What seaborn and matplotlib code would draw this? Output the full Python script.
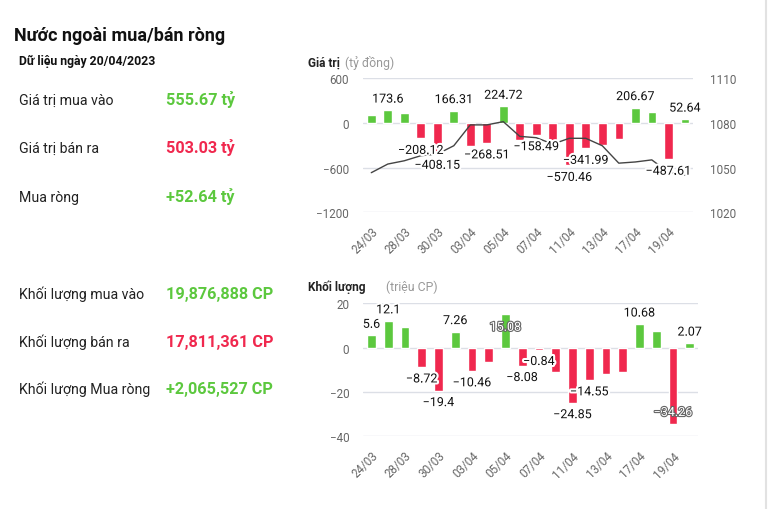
import numpy as np
import pandas as pd
import matplotlib.pyplot as plt
import matplotlib.patheffects as pe
from matplotlib.lines import Line2D
import seaborn as sns

# %%
dates = ["24/03", "27/03", "28/03", "29/03", "30/03", "31/03", "03/04", "04/04",
         "05/04", "06/04", "07/04", "10/04", "11/04", "12/04", "13/04", "14/04",
         "17/04", "18/04", "19/04", "20/04"]

# net foreign value, ty dong
value_net = [103, 173.6, 130, -208.12, -408.15, 166.31, -305, -268.51, 224.72, -224,
             -158.49, -255, -570.46, -341.99, -291, -210, 206.67, 143, -487.61, 52.64]
value_show = [0, 1, 0, 1, 1, 1, 0, 1, 1, 0, 1, 0, 1, 1, 0, 0, 1, 0, 1, 1]

# index line (right axis)
vnindex = [1046.6, 1052.4, 1054.6, 1058.0, 1059.1, 1064.7, 1078.7, 1078.7, 1080.9, 1071.0,
           1070.1, 1065.8, 1069.7, 1069.7, 1064.7, 1053.0, 1053.8, 1055.2, 1047.0, 1045.0]

# net foreign volume, trieu CP
volume_net = [5.6, 12.1, 9.5, -8.72, -19.4, 7.26, -10.46, -6.5, 15.08, -8.08,
              -0.84, -10.8, -24.85, -14.55, -11.9, -10.8, 10.68, 7.4, -34.26, 2.07]
volume_show = [1, 1, 0, 1, 1, 1, 1, 0, 1, 1, 1, 0, 1, 1, 0, 0, 1, 0, 1, 1]

value_rows = ["Giá trị mua vào", "Giá trị bán ra", "Mua ròng"]
value_texts = ["555.67 tỷ", "503.03 tỷ", "+52.64 tỷ"]
volume_rows = ["Khối lượng mua vào", "Khối lượng bán ra", "Khối lượng Mua ròng"]
volume_texts = ["19,876,888 CP", "17,811,361 CP", "+2,065,527 CP"]
row_colors = ["#5cc83e", "#f0284e", "#5cc83e"]

GREEN = "#5cc83e"
RED = "#f0284e"
TICK = "#666666"

sns.set_style("white")
plt.rcParams["font.family"] = ["Roboto", "DejaVu Sans"]

fig = plt.figure(figsize=(7.68, 5.10), dpi=100)
ax_top = fig.add_axes([0.4727, 0.5818, 0.4297, 0.2627])
ax_bot = fig.add_axes([0.4727, 0.1425, 0.4362, 0.2608])


def bar_panel(ax, values, ylim, yticks):
    df = pd.DataFrame({"date": dates, "value": values})
    df["sign"] = np.where(df["value"] >= 0, "pos", "neg")
    sns.barplot(data=df, x="date", y="value", hue="sign",
                palette={"pos": GREEN, "neg": RED}, dodge=False, legend=False,
                width=0.52, saturation=1, ax=ax)
    ax.set_xlim(-0.5, len(dates) - 0.5)
    ax.set_ylim(*ylim)
    ax.set_yticks(yticks)
    ax.set_xticks(range(0, len(dates), 2))
    ax.set_xticklabels(dates[::2], rotation=45, ha="right", rotation_mode="anchor")
    ax.set_xlabel("")
    ax.set_ylabel("")
    ax.grid(axis="y", color="#dcdfe6", lw=1)
    ax.set_axisbelow(True)
    ax.tick_params(length=0, labelsize=8.4, colors=TICK)
    ax.tick_params(axis="x", pad=9)
    ax.tick_params(axis="y", pad=10)
    sns.despine(ax=ax, left=True, bottom=True)


def add_labels(ax_draw, ax_data, values, show, room):
    ymin, ymax = ax_data.get_ylim()
    for i, v in enumerate(values):
        if not show[i]:
            continue
        txt = f"{v:g}".replace("-", "\u2212")
        if v >= 0:
            inside = v + room > ymax
            dy = -9.4 if inside else 7.9
        else:
            inside = v - room < ymin
            dy = 8 if inside else -8.6
        if inside:
            color, halo = "white", "#666666"
            lw = 1.6
        else:
            color, halo = "#111111", "white"
            lw = 3
        ax_draw.annotate(txt, xy=(i, v), xycoords=ax_data.transData,
                         xytext=(0, dy), textcoords="offset points",
                         ha="center", va="center", fontsize=9, color=color,
                         zorder=10,
                         path_effects=[pe.withStroke(linewidth=lw, foreground=halo)])


# %% value chart with index line
bar_panel(ax_top, value_net, (-1200, 600), [-1200, -600, 0, 600])
ax_idx = ax_top.twinx()
sns.lineplot(x=np.arange(len(vnindex)), y=vnindex, color="#444444", lw=1, ax=ax_idx)
ax_idx.set_ylim(1020, 1110)
ax_idx.set_yticks([1020, 1050, 1080, 1110])
ax_idx.tick_params(length=0, labelsize=8.4, colors=TICK, pad=12)
sns.despine(ax=ax_idx, left=True, bottom=True, right=True)
add_labels(ax_idx, ax_top, value_net, value_show, 228)

# %% volume chart
bar_panel(ax_bot, volume_net, (-40, 20), [-40, -20, 0, 20])
add_labels(ax_bot, ax_bot, volume_net, volume_show, 7.7)

# %% titles
def fy(py):
    return 1 - py / 510


fig.text(308 / 768, fy(63.3), "Giá trị", fontsize=8.6, fontweight="bold",
         color="#222222", va="center")
fig.text(345 / 768, fy(63.3), "(tỷ đồng)", fontsize=8.8, color="#999999", va="center")
fig.text(308 / 768, fy(287.3), "Khối lượng", fontsize=8.6, fontweight="bold",
         color="#222222", va="center")
fig.text(386 / 768, fy(287.3), "(triệu CP)", fontsize=8.8, color="#999999", va="center")

# %% left summary block
fig.text(14 / 768, fy(40.7), "Nước ngoài mua/bán ròng", fontsize=13,
         fontweight="bold", color="#111111", va="baseline")
fig.text(19 / 768, fy(65), "Dữ liệu ngày 20/04/2023", fontsize=8.8,
         fontweight="bold", color="#111111", va="baseline")

for k, (lab, val) in enumerate(zip(value_rows, value_texts)):
    y = fy(105 + 48.3 * k)
    fig.text(19 / 768, y, lab, fontsize=10.2, color="#222222", va="baseline")
    fig.text(166 / 768, y, val, fontsize=11.7, fontweight="bold",
             color=row_colors[k], va="baseline")

for k, (lab, val) in enumerate(zip(volume_rows, volume_texts)):
    y = fy(299.3 + 47.4 * k)
    fig.text(19 / 768, y, lab, fontsize=10.2, color="#222222", va="baseline")
    fig.text(166 / 768, y, val, fontsize=11.7, fontweight="bold",
             color=row_colors[k], va="baseline")

fig.add_artist(Line2D([0.9974, 0.9974], [0, 1], color="#e2e2e2", lw=1.5))

fig.savefig("out.png", dpi=100)
